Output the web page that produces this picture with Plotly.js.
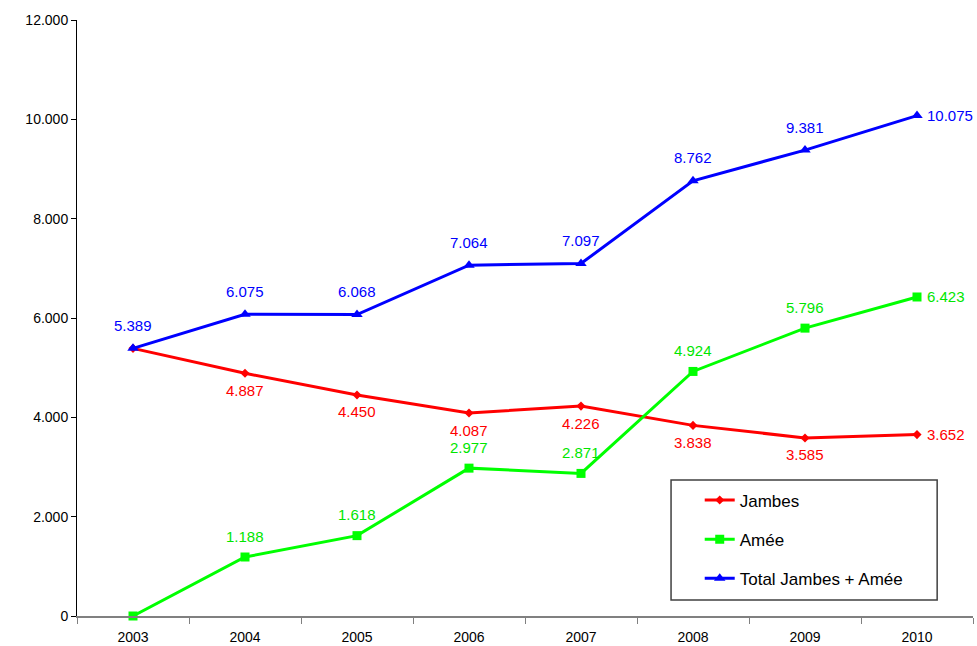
<!DOCTYPE html>
<html>
<head>
<meta charset="utf-8">
<script src="https://cdn.plot.ly/plotly-3.0.1.min.js"></script>
<style>
  body { margin: 0; background: #fff; }
  #graph { width: 977px; height: 646px; }
</style>
</head>
<body>
<div id="graph"></div>
<script>
var years = ["2003", "2004", "2005", "2006", "2007", "2008", "2009", "2010"];
var jambes = [5389, 4887, 4450, 4087, 4226, 3838, 3585, 3652];
var amee = [0, 1188, 1618, 2977, 2871, 4924, 5796, 6423];
var total = [5389, 6075, 6068, 7064, 7097, 8762, 9381, 10075];
var names = ["Jambes", "Amée", "Total Jambes + Amée"];

var FONT = 'Arial, "Liberation Sans", sans-serif';
var red = "#ff0000";
var green = "#00ff00";
var blue = "#0000ff";

// label text with dot as thousands separator
function fmt(v) {
	return String(v).replace(/\B(?=(\d{3})+(?!\d))/g, ".");
}

// data labels: above or below each point, last one to the right
// (x given as category index, "2003" would be read as a number)
function labels(vals, color, shift, skipFirst) {
	var out = [];
	for (var i = 0; i < vals.length; i++) {
		if (i == 0 && skipFirst) continue;
		var last = i == vals.length - 1;
		out.push({
			x: i, y: vals[i], xref: "x", yref: "y",
			text: fmt(vals[i]), showarrow: false,
			xanchor: last ? "left" : "center",
			xshift: last ? 9 : 0,
			yshift: last ? 0 : shift,
			borderpad: 0,
			font: { color: color, size: 15, family: FONT }
		});
	}
	return out;
}

function line(vals, name, color, symbol, size, group) {
	return {
		x: years, y: vals, name: name, legendgroup: group,
		type: "scatter", mode: "lines+markers",
		line: { color: color, width: 3 },
		marker: { symbol: symbol, size: size, color: color },
		cliponaxis: false
	};
}

var data = [
	line(jambes, names[0], red, "diamond", 7, "a"),
	line(amee, names[1], green, "square", 9, "b"),
	line(total, names[2], blue, "triangle-up", 10, "c")
];

var annotations = []
	.concat(labels(jambes, red, -17, true))
	.concat(labels(amee, "#00e600", 21, true))
	.concat(labels(total, blue, 23, false));

var layout = {
	width: 977, height: 646,
	margin: { l: 77, r: 4, t: 20, b: 30 },
	paper_bgcolor: "#fff", plot_bgcolor: "#fff",
	separators: ",.",
	font: { family: FONT, size: 14, color: "#000" },
	showlegend: true,
	annotations: annotations,
	// frame of the legend (plotly's own border hugs the text too tightly)
	shapes: [{
		type: "rect", xref: "paper", yref: "paper", layer: "below",
		x0: 0.663, x1: 0.96, y0: 0.027, y1: 0.228,
		line: { color: "#404040", width: 1.5 }, fillcolor: "#fff"
	}],
	xaxis: {
		type: "category",
		range: [-0.5, 7.5],
		tickson: "boundaries",
		ticks: "outside", ticklen: 6, tickcolor: "#808080", tickwidth: 1,
		showline: true, linecolor: "#808080", linewidth: 2,
		showgrid: false, zeroline: false,
		ticklabelstandoff: 7,
		tickfont: { size: 14 }
	},
	yaxis: {
		range: [0, 12000],
		dtick: 2000,
		tickformat: ",d",
		ticks: "outside", ticklen: 5, tickcolor: "#000",
		showline: true, linecolor: "#000", linewidth: 1,
		showgrid: false, zeroline: false,
		tickfont: { size: 14 }
	},
	legend: {
		x: 0.695, y: 0.224, xanchor: "left", yanchor: "top",
		bgcolor: "rgba(0,0,0,0)", borderwidth: 0,
		traceorder: "grouped", tracegroupgap: 14,
		font: { size: 17 }
	}
};

Plotly.newPlot("graph", data, layout, { displayModeBar: false });
</script>
</body>
</html>
